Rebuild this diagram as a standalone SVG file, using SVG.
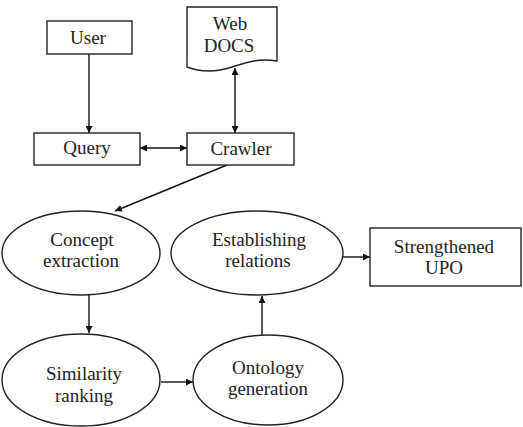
<svg xmlns="http://www.w3.org/2000/svg" width="523" height="427" viewBox="0 0 523 427">
<defs>
<marker id="ah" viewBox="0 0 10 10" refX="10" refY="5" markerWidth="7" markerHeight="7" markerUnits="userSpaceOnUse" orient="auto-start-reverse">
<path d="M0,0 L10,5 L0,10 z" fill="#111"/>
</marker>
<style>
.s{fill:#fff;stroke:#222;stroke-width:1.4}
.t{font-family:'Liberation Serif','Times New Roman','DejaVu Serif',serif;font-size:19px;fill:#222;text-anchor:middle}
.c{fill:none;stroke:#111;stroke-width:1.4}
</style>
</defs>
<rect width="523" height="427" fill="#fff"/>
<g id="connectors">
<line class="c" x1="89" y1="54" x2="89" y2="133" marker-end="url(#ah)"/>
<line class="c" x1="140" y1="148" x2="187" y2="148" marker-start="url(#ah)" marker-end="url(#ah)"/>
<line class="c" x1="235" y1="68" x2="235" y2="133" marker-start="url(#ah)" marker-end="url(#ah)"/>
<line class="c" x1="227" y1="165" x2="115" y2="211" marker-end="url(#ah)"/>
<line class="c" x1="89" y1="295" x2="89" y2="333" marker-end="url(#ah)"/>
<line class="c" x1="161" y1="382" x2="193" y2="382" marker-end="url(#ah)"/>
<line class="c" x1="262" y1="335" x2="262" y2="296" marker-end="url(#ah)"/>
<line class="c" x1="343" y1="257" x2="370" y2="257" marker-end="url(#ah)"/>
</g>
<g id="user"><rect class="s" x="47" y="21" width="85" height="33"/><text class="t" x="88" y="44" font-family="Liberation Serif, serif">User</text></g>
<g id="webdocs"><path class="s" d="M187,7 L277,7 L277,61 C258,58 248,62 232,67 C214,73 200,72 187,67 Z"/><text class="t" x="230" y="30">Web</text><text class="t" x="229" y="52">DOCS</text></g>
<g id="query"><rect class="s" x="34" y="133" width="106" height="32"/><text class="t" x="87" y="154">Query</text></g>
<g id="crawler"><rect class="s" x="187" y="133" width="107" height="32"/><text class="t" x="241" y="155">Crawler</text></g>
<g id="concept"><ellipse class="s" cx="81" cy="253" rx="79" ry="42"/><text class="t" x="82" y="246">Concept</text><text class="t" x="81" y="267">extraction</text></g>
<g id="establishing"><ellipse class="s" cx="257" cy="253" rx="86" ry="42"/><text class="t" x="259" y="246">Establishing</text><text class="t" x="258" y="267">relations</text></g>
<g id="upo"><rect class="s" x="370" y="228" width="151" height="58"/><text class="t" x="444" y="253">Strengthened</text><text class="t" x="444" y="274">UPO</text></g>
<g id="similarity"><ellipse class="s" cx="81" cy="380" rx="79" ry="46"/><text class="t" x="84" y="380">Similarity</text><text class="t" x="84" y="402">ranking</text></g>
<g id="ontology"><ellipse class="s" cx="268" cy="380" rx="75" ry="45"/><text class="t" x="268" y="374">Ontology</text><text class="t" x="268" y="395">generation</text></g>
</svg>
